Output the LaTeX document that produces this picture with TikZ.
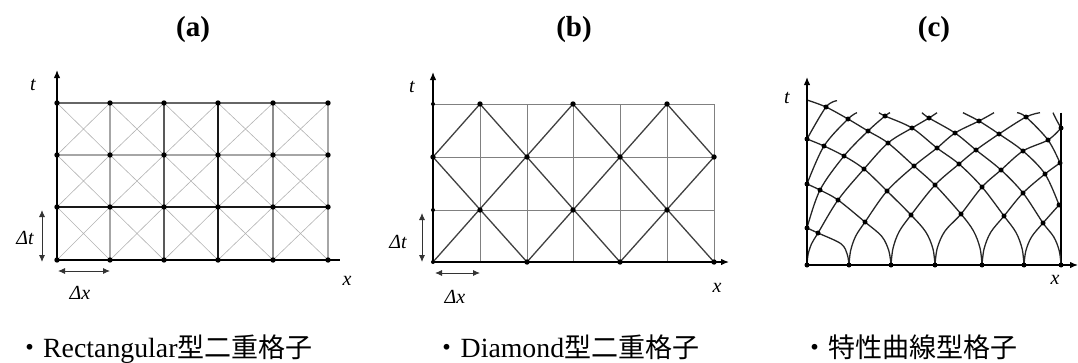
\documentclass[tikz,border=0pt]{standalone}
\usepackage{fontspec}
\setmainfont{Liberation Serif}
\newfontfamily\cjk{Noto Sans CJK JP}
\usetikzlibrary{arrows.meta}
\tikzset{
  axis/.style={line width=1.3pt, black},
  tipup/.style={-{Latex[length=8pt,width=6.5pt]}},
  dbl/.style={{Latex[length=7pt,width=6pt]}-{Latex[length=7pt,width=6pt]}, line width=0.9pt, black!80},
  lab/.style={font=\fontsize{20}{20}\selectfont\itshape, inner sep=0pt},
  ttl/.style={font=\fontsize{29}{29}\selectfont\bfseries, inner sep=0pt},
  captext/.style={anchor=base west, inner sep=0pt},
  diag/.style={black!30, line width=0.6pt},
  bdiag/.style={black!75, line width=1.3pt},
  bgrid/.style={black!50, line width=0.7pt},
  crv/.style={black!85, line width=1.3pt},
}
\newcommand{\capfont}{\fontsize{27.8}{28}\selectfont}
\newcommand{\jp}[1]{{\cjk\fontsize{27}{28}\selectfont #1}}
\begin{document}
\begin{tikzpicture}[x=1pt,y=-1pt]
\useasboundingbox (0,0) rectangle (1078,362);

% ---------- titles ----------
\node[ttl] (ta) at (193,30) {(a)};
\node[ttl] (tb) at (574,30) {(b)};
\node[ttl] (tc) at (934,30) {(c)};

% ---------- panel (a) ----------
\foreach \xa/\xb in {57/110,110/164,164/218,218/273,273/328}
  \foreach \ya/\yb in {103/155,155/207,207/260}
    {\draw[diag] (\xa,\ya)--(\xb,\yb) (\xa,\yb)--(\xb,\ya);}
\draw[line width=1.4pt, black!60] (57,103)--(328,103);
\draw[line width=2pt, black!35] (57,155)--(328,155);
\draw[line width=1.2pt, black!90] (57,207)--(328,207);
\draw[line width=2pt, black!35] (110,103)--(110,260);
\draw[line width=1.5pt, black!65] (164,103)--(164,260);
\draw[line width=1.2pt, black!90] (218,103)--(218,260);
\draw[line width=1.6pt, black!45] (273,103)--(273,260);
\draw[line width=2pt, black!35] (328,103)--(328,260);
\draw[axis] (57,260)--(340,260);
\draw[axis,tipup] (57,260)--(57,70);
\foreach \x in {57,110,164,218,273,328}
  \foreach \y in {103,155,207,260}
    {\fill (\x,\y) circle (2.7);}
\node[lab] (lta) at (33,85) {t};
\node[lab] (ldta) at (25,238) {Δt};
\node[lab] (ldxa) at (80,293) {Δx};
\node[lab] (lxa) at (347,281) {x};
\draw[dbl] (42,210)--(42,262);
\draw[dbl] (58,271)--(110,271);

% ---------- panel (b) ----------
\foreach \y in {104,157,210}
  {\draw[bgrid] (433,\y)--(714,\y);}
\foreach \x in {480,527,573,620,667,714}
  {\draw[bgrid] (\x,104)--(\x,262);}
\draw[bdiag] (433,157)--(480,104);
\draw[bdiag] (433,262)--(573,104);
\draw[bdiag] (527,262)--(667,104);
\draw[bdiag] (620,262)--(714,157);
\draw[bdiag] (433,157)--(527,262);
\draw[bdiag] (480,104)--(620,262);
\draw[bdiag] (573,104)--(714,262);
\draw[bdiag] (667,104)--(714,157);
\draw[axis] (433,262)--(720,262);
\draw[axis,-{Latex[length=8pt,width=6.5pt]}] (700,262)--(729,262);
\draw[axis,tipup] (433,262)--(433,72);
\foreach \p in {(527,262),(620,262),(714,262),
                (480,210),(573,210),(667,210),
                (433,157),(527,157),(620,157),(714,157),
                (480,104),(573,104),(667,104)}
  {\fill \p circle (2.7);}
\foreach \p in {(433,262),(433,210),(433,104)}
  {\fill \p circle (2);}
\node[lab] (ltb) at (412,87) {t};
\node[lab] (ldtb) at (398,242) {Δt};
\node[lab] (ldxb) at (455,297) {Δx};
\node[lab] (lxb) at (717,288) {x};
\draw[dbl] (422,213)--(422,262);
\draw[dbl] (435,273)--(480,273);

% ---------- panel (c) ----------
\draw[line width=1.2pt] (1061,112.7)--(1061,265);
\begin{scope}[crv]
% right-going characteristics
\draw plot[smooth,tension=0.55] coordinates {(807,265) (808.1,254.3) (811.6,243.7) (818,233) (838,200) (864,169) (888,143) (912,128) (929,118) (937,112.7)};
\draw plot[smooth,tension=0.55] coordinates {(849,265) (850.6,250.7) (855.6,236.3) (865,222) (887,191) (914,166) (937,148) (955,133) (979,121) (994,112.7)};
\draw plot[smooth,tension=0.55] coordinates {(891,265) (893,248.3) (899.1,231.7) (911,215) (935,185) (959,164) (976,150) (999,134) (1026,117) (1040,112.7)};
\draw plot[smooth,tension=0.55] coordinates {(935,265) (937.3,248) (945,231) (961,214) (982,187) (1001,170) (1023,151) (1048,140) (1061,128)};
\draw plot[smooth,tension=0.55] coordinates {(982,265) (984.1,248.7) (990.7,232.3) (1004,216) (1023,193) (1045,174) (1060,163)};
\draw plot[smooth,tension=0.55] coordinates {(1024,265) (1025.8,251) (1031.5,237) (1043,223) (1059,205)};
\draw plot[smooth,tension=0.55] coordinates {(807,228) (820,190) (844,156) (868,131) (885,116) (890,112.7)};
\draw plot[smooth,tension=0.55] coordinates {(807,184) (824,146) (848,119) (857,112.7)};
\draw plot[smooth,tension=0.55] coordinates {(807,139) (826,107) (837,100.7)};
% left-going characteristics
\draw plot[smooth,tension=0.55] coordinates {(849,265) (847.2,254.3) (840.9,243.7) (818,233) (807,228)};
\draw plot[smooth,tension=0.55] coordinates {(891,265) (888.8,250.7) (881.7,236.3) (865,222) (838,200) (820,190) (807,184)};
\draw plot[smooth,tension=0.55] coordinates {(935,265) (932.8,248.3) (925.6,231.7) (911,215) (887,191) (864,169) (844,156) (824,146) (807,139)};
\draw plot[smooth,tension=0.55] coordinates {(982,265) (980,248) (973.5,231) (961,214) (935,185) (914,166) (888,143) (868,131) (848,119) (826,107) (807,100)};
\draw plot[smooth,tension=0.55] coordinates {(1024,265) (1022.1,248.7) (1015.9,232.3) (1004,216) (982,187) (959,164) (937,148) (912,128) (885,116) (879,112.7)};
\draw plot[smooth,tension=0.55] coordinates {(1061,265) (1059.3,251) (1053.8,237) (1043,223) (1023,193) (1001,170) (976,150) (955,133) (929,118) (922,112.7)};
\draw plot[smooth,tension=0.55] coordinates {(1059,205) (1045,174) (1023,151) (999,134) (979,121) (963,112.7)};
\draw plot[smooth,tension=0.55] coordinates {(1060,163) (1048,140) (1026,117) (1017,112.7)};
\draw plot[smooth,tension=0.55] coordinates {(1061,128) (1056,119) (1053,112.7)};
\end{scope}
\draw[axis,-{Latex[length=8pt,width=6.5pt]}] (807,265)--(1078,265);
\draw[axis,tipup] (807,265)--(807,77);
\foreach \p in {(807,265),(849,265),(891,265),(935,265),(982,265),(1024,265),(1061,265),
  (807,228),(807,184),(807,139),(1059,205),(1060,163),(1061,128),
  (818,233),(865,222),(911,215),(961,214),(1004,216),(1043,223),
  (838,200),(887,191),(935,185),(982,187),(1023,193),
  (820,190),(864,169),(914,166),(959,164),(1001,170),(1045,174),
  (844,156),(888,143),(937,148),(976,150),(1023,151),
  (824,146),(868,131),(912,128),(955,133),(999,134),(1048,140),
  (848,119),(885,116),(929,118),(979,121),(1026,117),
  (826,107)}
  {\fill \p circle (2.5);}
\node[lab] (ltc) at (787,98) {t};
\node[lab] (lxc) at (1055,280) {x};

% ---------- captions ----------
\node[captext] (ca) at (16,357) {\capfont\jp{・}Rectangular\jp{型二重格子}};
\node[captext] (cb) at (433.5,357) {\capfont\jp{・}Diamond\jp{型二重格子}};
\node[captext] (cc) at (801,357) {\capfont\jp{・特性曲線型格子}};
\end{tikzpicture}
\end{document}
